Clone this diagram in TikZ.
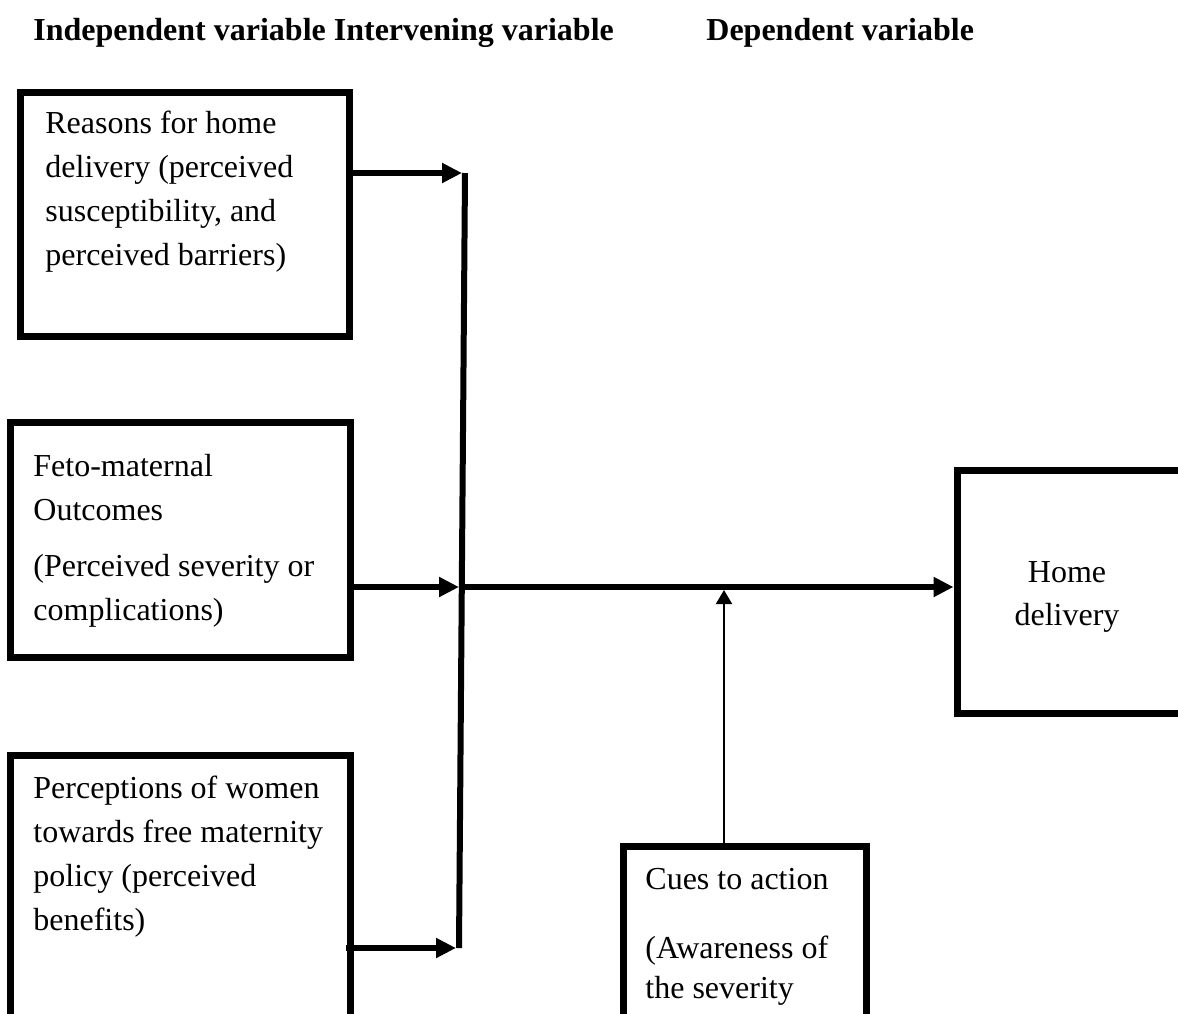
\documentclass[tikz,border=0pt]{standalone}
\usepackage{fontspec}
\setmainfont{Liberation Serif}
\usetikzlibrary{arrows.meta,fit}
\begin{document}
\begin{tikzpicture}[x=0.5pt,y=-0.5pt,
  box/.style={draw, line width=3.5pt, inner sep=0pt},
  txt/.style={anchor=base west, align=left, inner sep=0pt, font=\fontsize{16}{22}\selectfont},
  head/.style={anchor=base west, inner sep=0pt, font=\fontsize{16}{22}\selectfont\bfseries},
  bigarrow/.style={line width=3pt, -{Triangle[length=10pt,width=9.5pt]}},
  smallarrow/.style={line width=1pt, -{Triangle[length=7pt,width=8pt]}},
  bar/.style={line width=3pt}]
\useasboundingbox (0,0) rectangle (1178,1013);
\clip (0,0) rectangle (1178,1013);

% headers
\node[head] (h1) at (33,40) {Independent variable Intervening variable};
\node[head] (h2) at (706,40) {Dependent variable};

% boxes
\node[box, fit={(20.5,92) (349,336.5)}] (b1) {};
\node[box, fit={(10.5,422) (350,657)}] (b2) {};
\node[box, fit={(10.5,755.5) (350,1120)}] (b3) {};
\node[box, fit={(623,846.5) (866,1120)}] (cues) {};
\node[box, fit={(957,470.5) (1260,713)}] (home) {};

% texts (base anchor = baseline of last line)
\node[txt] (t1) at (45,265) {Reasons for home\\delivery (perceived\\susceptibility, and\\perceived barriers)};
\node[txt] (t2) at (33,620) {Feto-maternal\\Outcomes\\[6pt](Perceived severity or\\complications)};
\node[txt] (t3) at (33,930) {Perceptions of women\\towards free maternity\\policy (perceived\\benefits)};
\node[txt] (t4) at (645,998) {Cues to action\\[12.5pt](Awareness of\\[-2pt]the severity};
\node[txt, anchor=base, align=center] (t5) at (1067,625) {Home\\[-0.5pt]delivery};

% intervening bar
\coordinate (vt) at (465,173);
\coordinate (vb) at (459,948);
\coordinate (a1) at (462,173);
\coordinate (a2) at (459,587);
\coordinate (vm) at (462,587);
\coordinate (a3) at (456,948);
\coordinate (mc) at (724,590);
\draw[bar] (vt) -- (vb);

% connectors
\draw[bigarrow] (b1.east |- a1) -- (a1);
\draw[bigarrow] (b2.east |- a2) -- (a2);
\draw[bigarrow] ([xshift=-4pt]b3.east |- a3) -- (a3);
\draw[bigarrow] (vm) -- (home.west |- vm);
\draw[smallarrow] (cues.north -| mc) -- (mc);
\end{tikzpicture}
\end{document}
